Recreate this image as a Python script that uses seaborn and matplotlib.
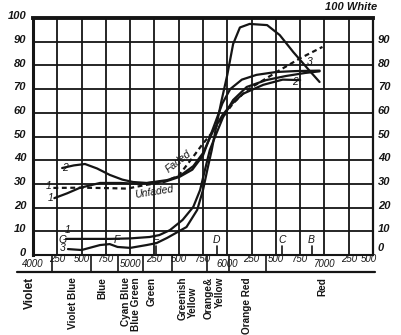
import numpy as np
import pandas as pd
import matplotlib
matplotlib.use("Agg")
import matplotlib.pyplot as plt
import seaborn as sns

# Wavelength (Angstrom) and reflectance (% of white) for each curve
c2_wl = [4300, 4420, 4535, 4660, 4790, 4920, 5030, 5170, 5380, 5510, 5650, 5750,
         5850, 5950, 6040, 6160, 6370, 6570, 6750]
c2_val = [36.7, 37.8, 38.4, 36.5, 33.8, 31.8, 30.8, 30.4, 31.6, 33.3, 37.5, 43.0,
          52.0, 59.0, 63.5, 68.0, 71.8, 74.0, 73.8]

faded_wl = [4220, 4350, 4480, 4690, 4900, 5100, 5380, 5510, 5640, 5750, 5850, 5950,
            6030, 6150, 6300, 6500, 6700, 6950]
faded_val = [24.0, 26.0, 28.3, 30.4, 30.4, 30.0, 31.2, 33.0, 36.0, 42.0, 53.0, 64.0,
             70.0, 74.0, 76.0, 77.2, 77.6, 77.8]

unfaded_wl = [4210, 4500, 4800, 4970, 5150, 5350, 5500, 5650, 5740, 5850, 5950, 6060,
              6200, 6340, 6540, 6750, 6980]
unfaded_val = [28.3, 28.4, 28.2, 28.0, 29.5, 30.8, 33.5, 41.5, 46.5, 52.0, 58.0, 64.0,
               69.5, 73.0, 78.0, 83.0, 87.8]

c1_wl = [4340, 4500, 4800, 5000, 5200, 5300, 5410, 5540, 5650, 5720, 5770, 5820,
         5890, 5955, 6060, 6200, 6400, 6600, 6800, 6950]
c1_val = [6.8, 6.8, 6.8, 7.0, 7.6, 8.4, 10.5, 14.8, 20.3, 27.4, 35.9, 44.3,
          51.5, 58.0, 65.4, 70.9, 73.8, 75.5, 76.8, 77.5]

c3_wl = [4360, 4500, 4690, 4790, 4870, 5000, 5170, 5270, 5380, 5580, 5690, 5750,
         5800, 5840, 5890, 5940, 6000, 6060, 6130, 6230, 6410, 6540, 6680, 6820, 6950]
c3_val = [2.5, 2.1, 4.2, 4.6, 3.4, 3.0, 4.2, 5.0, 7.2, 11.8, 19.0, 27.4,
          37.0, 44.3, 55.0, 65.0, 76.0, 89.0, 96.0, 97.5, 97.0, 92.8, 85.6, 79.0, 73.0]

# Fraunhofer lines
fr_names = ["G", "F", "E", "D", "C", "B"]
fr_wl = [4308, 4861, 5270, 5893, 6563, 6867]

# Colour bands under the scale
band_edges = [4200, 4600, 4880, 5130, 5430, 5790, 6020, 6400]
band_names = ["Violet", "Violet Blue", "Blue", "Cyan Blue", "Blue Green", "Green",
              "Greenish", "Yellow", "Orange&", "Yellow", "Orange Red", "Red"]
band_pos = [3970, 4410, 4710, 4960, 5065, 5220, 5540, 5650, 5810, 5920, 6200, 6980]

wl_ticks = list(range(4000, 7501, 250))
wl_labels = ["4000", "250", "500", "750", "5000", "250", "500", "750", "6000",
             "250", "500", "750", "7000", "250", "500"]
y_ticks = list(range(0, 101, 10))

sns.set_style("white")
plt.rcParams["font.family"] = ["Liberation Sans", "DejaVu Sans"]

fig = plt.figure(figsize=(4.01, 3.35), dpi=100)
ax = fig.add_axes([33 / 401, 1 - 255 / 335, 340 / 401, 237 / 335])
ax.set_xlim(4000, 7500)
ax.set_ylim(0, 100)

ink = "#151515"
for x in wl_ticks:
    ax.axvline(x, color=ink, lw=1.3, zorder=1)
for y in y_ticks:
    ax.axhline(y, color=ink, lw=1.3, zorder=1)

series = [
    (c2_wl, c2_val, "-"),
    (faded_wl, faded_val, "-"),
    (unfaded_wl, unfaded_val, (0, (2.2, 1.6))),
    (c1_wl, c1_val, "-"),
    (c3_wl, c3_val, "-"),
]
for wl, val, ls in series:
    df = pd.DataFrame({"wl": wl, "val": val})
    sns.lineplot(data=df, x="wl", y="val", ax=ax, color=ink, lw=1.6,
                 linestyle=ls, zorder=3)

for side in ["left", "right", "top", "bottom"]:
    ax.spines[side].set_color(ink)
ax.spines["top"].set_linewidth(2.8)
ax.spines["left"].set_linewidth(2.2)
ax.spines["right"].set_linewidth(1.6)
ax.spines["bottom"].set_linewidth(1.5)

ax.set_xticks([])
ax.set_yticks([])
ax.set_xlabel("")
ax.set_ylabel("")

num_font = dict(fontsize=8, fontweight="bold", fontstyle="italic", color=ink)
for y in y_ticks:
    ax.text(3930, y + 0.8, str(y), ha="right", va="center", **num_font)
    if y < 100:
        yr = y + 3.0 if y == 0 else y + 0.8
        ax.text(7550, yr, str(y), ha="left", va="center", **num_font)
ax.text(7540, 102.5, "100 White", ha="right", va="bottom", **num_font)

# Fraunhofer letters with their short marks
lab_font = dict(fontsize=7.5, fontstyle="italic", color=ink)
for name, wl in zip(fr_names, fr_wl):
    ax.text(wl, 6.5, name, ha="center", va="center", **lab_font)
    if name in ("E", "D", "C", "B"):
        ax.plot([wl, wl], [0, 3.6], color=ink, lw=1.2, zorder=2)

# Curve numbers
for wl, y, t in [(4330, 36.5, "2"), (4160, 29.0, "1"), (4185, 24.0, "1"),
                 (4360, 10.5, "1"), (4300, 2.9, "3"), (6850, 81.5, "3"),
                 (6700, 73.0, "2")]:
    ax.text(wl, y, t, ha="center", va="center", **lab_font)

ax.text(5250, 26.8, "Unfaded", ha="center", va="center", rotation=9, **lab_font)
ax.text(5500, 39.5, "Faded", ha="center", va="center", rotation=38, **lab_font)

# Wavelength scale strip under the chart
ypx = 100 / 237
strip_bottom = -17 * ypx
ax.plot([3840, 7520], [strip_bottom, strip_bottom], color=ink, lw=1.6, clip_on=False)
for e in band_edges:
    ax.plot([e, e], [0, strip_bottom], color=ink, lw=1.2, clip_on=False)
scale_font = dict(fontsize=7, fontstyle="italic", color=ink)
for i, (x, t) in enumerate(zip(wl_ticks, wl_labels)):
    yy = -9.0 * ypx if t.endswith("000") else -4.0 * ypx
    xx = x - 40 if i == len(wl_ticks) - 1 else x
    ax.text(xx, yy, t, ha="center", va="center", **scale_font)

name_font = dict(fontsize=7.2, fontweight="bold", color=ink, rotation=90)
for x, t in zip(band_pos, band_names):
    top = -(287 - 255) * ypx if (t == "Yellow" and x < 5700) else -(277 - 255) * ypx
    size = 8.5 if t == "Violet" else 7.2
    ax.text(x, top, t, ha="center", va="top", **{**name_font, "fontsize": size})

fig.savefig("out.png", dpi=100, facecolor="white")
